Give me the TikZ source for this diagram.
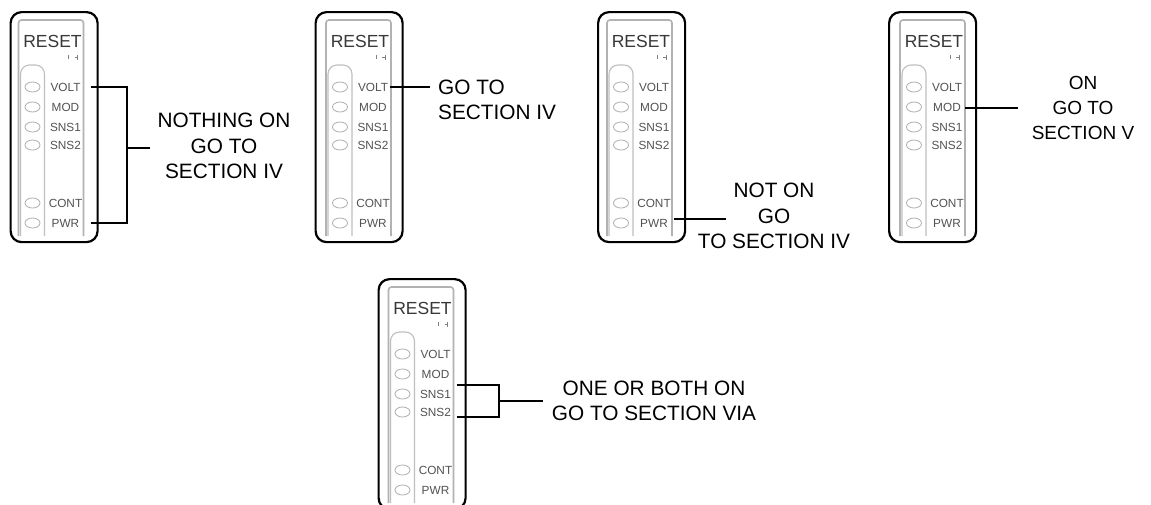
\documentclass[tikz,border=0pt]{standalone}
\usepackage{fontspec}
\setmainfont{Liberation Sans}
\usetikzlibrary{shapes.geometric}
\tikzset{
  x=1pt,y=-1pt,
  casebox/.style={draw=black,line width=2.2pt,rounded corners=11pt},
  facedge/.style={draw=black!30,line width=1.6pt,rounded corners=3pt},
  tube/.style={draw=black!25,line width=1.1pt,rounded corners=9pt},
  led/.style={ellipse,draw=black!32,line width=0.8pt,minimum width=15pt,minimum height=10pt,inner sep=0pt},
  ledtext/.style={font=\fontsize{11.8}{12}\selectfont,text=black!68,inner sep=0pt,minimum width=34pt,minimum height=10pt},
  resettext/.style={font=\fontsize{17.5}{18}\selectfont,text=black!78,inner sep=0pt},
  tiny mark/.style={draw=black!50,line width=0.7pt},
  wire/.style={draw=black,line width=2pt},
  thinwire/.style={draw=black,line width=1.2pt},
  note/.style={font=\fontsize{20.8}{25.4}\selectfont,align=center,inner sep=0pt,text=black},
  smallnote/.style={note,font=\fontsize{19}{25.4}\selectfont},
  noteleft/.style={note,align=left,anchor=west},
}
\newcommand{\ledpanel}[4]{%
  \begin{scope}[shift={(#2,#3)}]
    \node[casebox,minimum width=87pt,minimum height=230pt,anchor=north west,inner sep=0pt] (#1-box) at (0,0) {};
    \begin{scope}[shift={(#4,0)}]
      \path[facedge] (0,225) -- (0,9) -- (65,9) -- (65,225);
      \path[tube] (2,225) -- (2,54) -- (26,54) -- (26,225);
      \node[resettext] (#1-reset) at (34,30) {RESET};
      \path[tiny mark] (50,44) -- (50,48) (59,44) -- (59,49) (56,46.5) -- (59,46.5);
      \node[led] (#1-l1) at (14,76) {};
      \node[led] (#1-l2) at (14,96) {};
      \node[led] (#1-l3) at (14,116) {};
      \node[led] (#1-l4) at (14,134) {};
      \node[led] (#1-l5) at (14,192) {};
      \node[led] (#1-l6) at (14,212) {};
      \node[ledtext] (#1-volt) at (47,76) {VOLT};
      \node[ledtext] (#1-mod) at (47,96) {MOD};
      \node[ledtext] (#1-sns1) at (47,116) {SNS1};
      \node[ledtext] (#1-sns2) at (47,134) {SNS2};
      \node[ledtext] (#1-cont) at (47,192) {CONT};
      \node[ledtext] (#1-pwr) at (47,212) {PWR};
    \end{scope}
  \end{scope}}
\begin{document}
\begin{tikzpicture}
\useasboundingbox (0,0) rectangle (1151,504);
\clip (0,0) rectangle (1151,504);
\fill[white] (0,0) rectangle (1151,504);
\ledpanel{a}{9.5}{11}{9}
\ledpanel{b}{314.5}{11}{11.5}
\ledpanel{c}{597}{11}{10}
\ledpanel{d}{888}{11}{12}
\ledpanel{e}{377.5}{278}{11}

\node[note] (na) at (224,146) {NOTHING ON\\GO TO\\SECTION IV};
\node[noteleft] (nb) at (438,100) {GO TO\\SECTION IV};
\node[note] (nc) at (774,216) {NOT ON\\GO\\TO SECTION IV};
\node[smallnote] (nd) at (1083,108) {ON\\GO TO\\SECTION V};
\node[note] (ne) at (654,401) {ONE OR BOTH ON\\GO TO SECTION VIA};

\coordinate (ja) at (150,148);
\coordinate (ka) at (127,148);
\path[wire] ([xshift=8pt]a-volt.east) -| (ka) -- (ja);
\path[wire] ([xshift=8pt]a-pwr.east) -| (ka);
\coordinate (jb) at (430,87);
\path[wire] (b-volt.east) -- (jb);
\coordinate (jc) at (726,219);
\path[wire] ([xshift=3pt,yshift=4pt]c-pwr.east) -- (jc);
\coordinate (jd) at (1018,108);
\path[thinwire] ([xshift=1pt,yshift=-1pt]d-mod.east) -- (jd);
\coordinate (ke) at (499,401);
\coordinate (je) at (543,401);
\path[wire] ([xshift=4pt,yshift=4pt]e-sns1.north east) -| (ke) -- (je);
\path[wire] ([xshift=4pt]e-sns2.south east) -| (ke);
\end{tikzpicture}
\end{document}
